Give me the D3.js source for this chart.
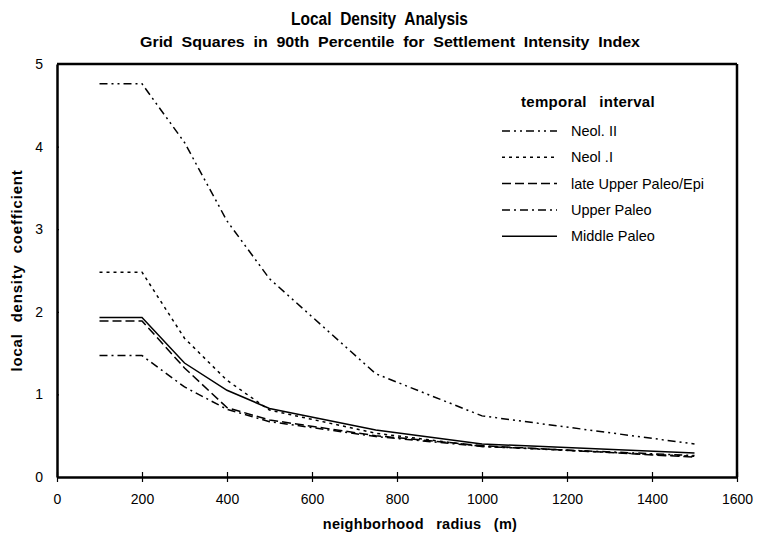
<!DOCTYPE html>
<html>
<head>
<meta charset="utf-8">
<script src="https://cdn.jsdelivr.net/npm/d3@7"></script>
<style>
  body { margin: 0; background: #fff; }
  text { font-family: "Liberation Sans", Arial, sans-serif; fill: #000; }
  .bold { font-weight: bold; }
</style>
</head>
<body>
<div id="chart"></div>
<script>
const radius = [100, 200, 300, 400, 500, 750, 1000, 1500];

const neolII = [4.76, 4.76, 4.05, 3.1, 2.4, 1.25, 0.74, 0.4];
const neolI = [2.48, 2.48, 1.68, 1.17, 0.81, 0.53, 0.37, 0.25];
const lateUpperPaleo = [1.89, 1.89, 1.32, 0.84, 0.69, 0.5, 0.38, 0.24];
const upperPaleo = [1.47, 1.47, 1.09, 0.82, 0.67, 0.49, 0.37, 0.26];
const middlePaleo = [1.93, 1.93, 1.38, 1.05, 0.83, 0.57, 0.4, 0.29];

const seriesNames = ["Neol. II", "Neol .I", "late Upper Paleo/Epi", "Upper Paleo", "Middle Paleo"];
const seriesValues = [neolII, neolI, lateUpperPaleo, upperPaleo, middlePaleo];
const seriesDash = ["8,4,2,4,2,4", "3,4", "9,4", "8,4,2,4", null];

const xTicks = [0, 200, 400, 600, 800, 1000, 1200, 1400, 1600];
const yTicks = [0, 1, 2, 3, 4, 5];

const width = 759, height = 539;
const margin = {top: 64, right: 22, bottom: 62, left: 57};

const svg = d3.select("#chart")
  .append("svg")
  .attr("width", width)
  .attr("height", height);

const x = d3.scaleLinear().domain([0, 1600]).range([margin.left, width - margin.right]);
const y = d3.scaleLinear().domain([0, 5]).range([height - margin.bottom, margin.top]);

// titles (condensed look)
svg.append("text")
  .attr("class", "bold")
  .attr("x", 291).attr("y", 25)
  .attr("textLength", 177)
  .attr("lengthAdjust", "spacingAndGlyphs")
  .style("font-size", "18px")
  .style("word-spacing", "5px")
  .text("Local Density Analysis");

svg.append("text")
  .attr("class", "bold")
  .attr("x", 140).attr("y", 47)
  .attr("textLength", 500)
  .attr("lengthAdjust", "spacingAndGlyphs")
  .style("font-size", "15px")
  .style("word-spacing", "4px")
  .text("Grid Squares in 90th Percentile for Settlement Intensity Index");

// axes
const xAxis = svg.append("g")
  .attr("transform", "translate(0," + y(0) + ")")
  .call(d3.axisBottom(x).tickValues(xTicks).tickFormat(d3.format("d")).tickSize(5).tickSizeOuter(0).tickPadding(12));
xAxis.select(".domain").attr("stroke-width", 2.5);
xAxis.selectAll(".tick line").attr("y1", -5).attr("stroke-width", 1.2);
xAxis.selectAll("text").style("font-size", "14px").style("font-family", "Liberation Sans, Arial, sans-serif");

const yAxis = svg.append("g")
  .attr("transform", "translate(" + x(0) + ",0)")
  .call(d3.axisLeft(y).tickValues(yTicks).tickFormat(d3.format("d")).tickSize(5).tickSizeOuter(0).tickPadding(9));
yAxis.select(".domain").attr("stroke-width", 2.5);
yAxis.selectAll(".tick line").attr("x2", 2).attr("stroke-width", 1.2);
yAxis.selectAll("text").style("font-size", "14px").style("font-family", "Liberation Sans, Arial, sans-serif");

// top and right frame
svg.append("line")
  .attr("x1", x(0)).attr("x2", x(1600))
  .attr("y1", y(5)).attr("y2", y(5))
  .attr("stroke", "#000").attr("stroke-width", 2.5);
svg.append("line")
  .attr("x1", x(1600)).attr("x2", x(1600))
  .attr("y1", y(5)).attr("y2", y(0))
  .attr("stroke", "#000").attr("stroke-width", 2.5);

// axis titles
svg.append("text")
  .attr("class", "bold")
  .attr("x", 420).attr("y", 529)
  .attr("text-anchor", "middle")
  .style("font-size", "14.5px")
  .style("word-spacing", "8px")
  .style("letter-spacing", "0.3px")
  .text("neighborhood radius (m)");

svg.append("text")
  .attr("class", "bold")
  .attr("transform", "translate(22," + y(2.5) + ") rotate(-90)")
  .attr("text-anchor", "middle")
  .style("font-size", "15px")
  .style("word-spacing", "6px")
  .style("letter-spacing", "0.8px")
  .text("local density coefficient");

// lines
const line = d3.line()
  .x((d, i) => x(radius[i]))
  .y(d => y(d));

svg.append("g")
  .selectAll("path")
  .data(seriesValues)
  .join("path")
    .attr("d", d => line(d))
    .attr("fill", "none")
    .attr("stroke", "#000")
    .attr("stroke-width", 1.5)
    .attr("stroke-dasharray", (d, i) => seriesDash[i]);

// legend
svg.append("text")
  .attr("class", "bold")
  .attr("x", 521).attr("y", 107)
  .style("font-size", "15px")
  .style("word-spacing", "8px")
  .style("letter-spacing", "0.3px")
  .text("temporal interval");

const legend = svg.append("g")
  .selectAll("g")
  .data(seriesNames)
  .join("g")
    .attr("transform", (d, i) => "translate(502," + (131 + i * 26.3) + ")");

legend.append("line")
  .attr("x1", 0).attr("x2", 55)
  .attr("stroke", "#000")
  .attr("stroke-width", 1.5)
  .attr("stroke-dasharray", (d, i) => seriesDash[i]);

legend.append("text")
  .attr("x", 69).attr("y", 5)
  .style("font-size", "14.5px")
  .text(d => d);
</script>
</body>
</html>
